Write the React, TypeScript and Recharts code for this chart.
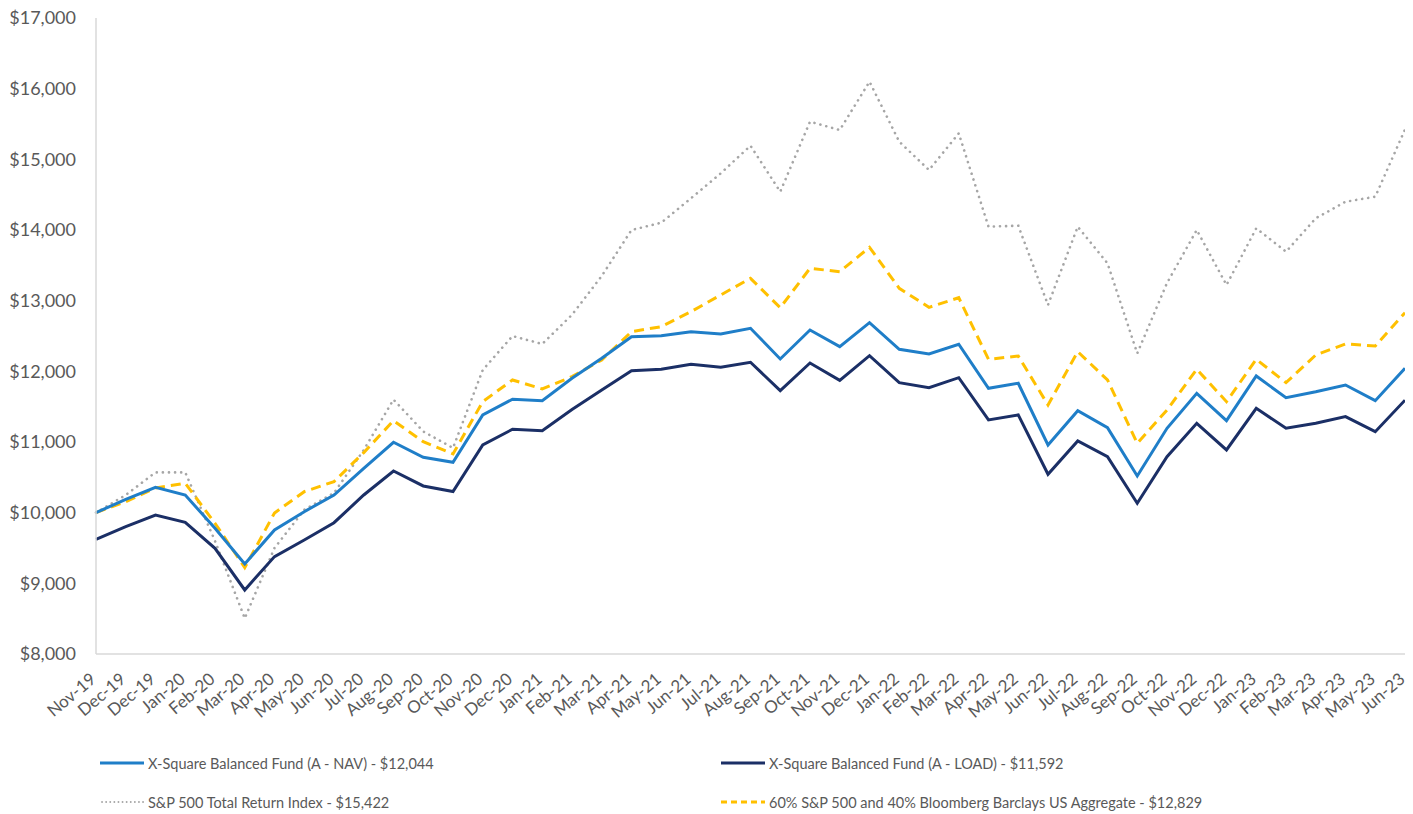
import React from "react";
import { LineChart, Line, XAxis, YAxis, Legend } from "recharts";

const labels = ["Nov-19","Dec-19","Dec-19","Jan-20","Feb-20","Mar-20","Apr-20","May-20","Jun-20","Jul-20","Aug-20","Sep-20","Oct-20","Nov-20","Dec-20","Jan-21","Feb-21","Mar-21","Apr-21","May-21","Jun-21","Jul-21","Aug-21","Sep-21","Oct-21","Nov-21","Dec-21","Jan-22","Feb-22","Mar-22","Apr-22","May-22","Jun-22","Jul-22","Aug-22","Sep-22","Oct-22","Nov-22","Dec-22","Jan-23","Feb-23","Mar-23","Apr-23","May-23","Jun-23"];

const navValues = [10000,10189,10359,10250,9779,9274,9755,10014,10250,10628,10996,10784,10713,11383,11605,11585,11902,12185,12490,12504,12561,12528,12609,12175,12585,12349,12689,12312,12245,12383,11760,11831,10958,11443,11203,10519,11194,11689,11302,11934,11627,11712,11807,11585,12044];

const loadValues = [9623,9802,9967,9863,9496,8906,9378,9613,9858,10250,10590,10378,10300,10958,11180,11160,11460,11736,12009,12029,12100,12057,12128,11726,12118,11873,12222,11840,11769,11910,11312,11383,10543,11015,10793,10133,10793,11265,10887,11477,11194,11265,11359,11146,11592];

const spValues = [10000,10250,10570,10570,9600,8505,9500,10040,10278,10887,11600,11150,10915,12019,12500,12387,12800,13350,14000,14103,14449,14802,15193,14542,15533,15415,16099,15250,14849,15368,14047,14061,12939,14047,13529,12255,13250,14000,13222,14024,13693,14166,14400,14471,15422];

const mixValues = [10000,10156,10350,10416,9850,9222,9996,10297,10440,10850,11302,11005,10831,11571,11878,11750,11925,12161,12561,12632,12844,13081,13316,12901,13458,13410,13755,13175,12906,13042,12170,12217,11524,12278,11878,10981,11453,12029,11571,12170,11840,12231,12387,12359,12829];

const yTicks = [8000,9000,10000,11000,12000,13000,14000,15000,16000,17000];

const seriesNames = {
  nav: "X-Square Balanced Fund (A - NAV) - $12,044",
  load: "X-Square Balanced Fund (A - LOAD) - $11,592",
  sp: "S&P 500 Total Return Index - $15,422",
  mix: "60% S&P 500 and 40% Bloomberg Barclays US Aggregate - $12,829",
};

const data = labels.map((label, i) => ({
  i,
  label,
  nav: navValues[i],
  load: loadValues[i],
  sp: spValues[i],
  mix: mixValues[i],
}));

const xTicks = labels.map((_, i) => i);

const FONT = "Lato, 'Open Sans', sans-serif";
const TEXT = "#595959";

const C_NAV = "#1f7ec8";
const C_LOAD = "#1b2f66";
const C_SP = "#a6a6a6";
const C_MIX = "#ffc000";

const W = 1413;
const H = 814;

const XTick = (props: any) => {
  const { x, y, payload } = props;
  return (
    <g transform={`translate(${x + 1},${y + 27})`}>
      <text
        x={0}
        y={0}
        textAnchor="end"
        transform="rotate(-40)"
        fill={TEXT}
        fontSize={17}
        fontFamily={FONT}
      >
        {labels[payload.value]}
      </text>
    </g>
  );
};

const legendItems = [
  { key: "nav", color: C_NAV, dash: undefined, cap: "butt", left: 100, top: 751 },
  { key: "load", color: C_LOAD, dash: undefined, cap: "butt", left: 721, top: 751 },
  { key: "sp", color: C_SP, dash: "0.1 4", cap: "round", left: 100, top: 790 },
  { key: "mix", color: C_MIX, dash: "6 4", cap: "butt", left: 721, top: 790 },
];

const LegendContent = () => (
  <div style={{ position: "relative", width: W, height: H }}>
    {legendItems.map((it) => (
      <div
        key={it.key}
        style={{
          position: "absolute",
          left: it.left,
          top: it.top,
          height: 24,
          display: "flex",
          alignItems: "center",
          whiteSpace: "nowrap",
        }}
      >
        <svg width={44} height={24} style={{ display: "block" }}>
          <line
            x1={it.cap === "round" ? 2 : 0}
            y1={12}
            x2={44}
            y2={12}
            stroke={it.color}
            strokeWidth={it.key === "sp" ? 1.8 : 3}
            strokeDasharray={it.dash}
            strokeLinecap={it.cap as any}
          />
        </svg>
        <span
          style={{
            marginLeft: 4,
            fontFamily: FONT,
            fontSize: 14.5,
            color: TEXT,
          }}
        >
          {(seriesNames as any)[it.key]}
        </span>
      </div>
    ))}
  </div>
);

export default function App() {
  return (
    <div
      style={{
        width: W,
        height: H,
        position: "relative",
        background: "#fff",
        marginTop: -8,
        marginLeft: -8,
      }}
    >
      <LineChart
        width={W}
        height={H}
        data={data}
        margin={{ top: 18, right: 8, left: 16, bottom: 80 }}
      >
        <XAxis
          dataKey="i"
          type="number"
          domain={[0, 44]}
          ticks={xTicks}
          interval={0}
          height={80}
          tickSize={0}
          tickMargin={0}
          axisLine={{ stroke: "#d9d9d9", strokeWidth: 1.5 }}
          tickLine={false}
          tick={<XTick />}
          allowDecimals={false}
        />
        <YAxis
          type="number"
          domain={[8000, 17000]}
          ticks={yTicks}
          interval={0}
          width={80}
          tickSize={0}
          tickMargin={20}
          axisLine={{ stroke: "#d9d9d9", strokeWidth: 1.5 }}
          tickLine={false}
          tick={{ fill: TEXT, fontSize: 18, fontFamily: FONT }}
          tickFormatter={(v: number) => `$${v.toLocaleString("en-US")}`}
          allowDataOverflow
        />
        <Legend
          layout="horizontal"
          verticalAlign="middle"
          align="center"
          content={<LegendContent />}
          wrapperStyle={{ left: 0, top: 0, width: W, height: H, pointerEvents: "none" }}
        />
        <Line
          type="linear"
          dataKey="sp"
          name={seriesNames.sp}
          stroke={C_SP}
          strokeWidth={2.6}
          strokeDasharray="0.1 6"
          strokeLinecap="round"
          dot={false}
          isAnimationActive={false}
        />
        <Line
          type="linear"
          dataKey="mix"
          name={seriesNames.mix}
          stroke={C_MIX}
          strokeWidth={3}
          strokeDasharray="10 6"
          dot={false}
          isAnimationActive={false}
        />
        <Line
          type="linear"
          dataKey="load"
          name={seriesNames.load}
          stroke={C_LOAD}
          strokeWidth={3}
          dot={false}
          isAnimationActive={false}
        />
        <Line
          type="linear"
          dataKey="nav"
          name={seriesNames.nav}
          stroke={C_NAV}
          strokeWidth={3}
          dot={false}
          isAnimationActive={false}
        />
      </LineChart>
    </div>
  );
}
